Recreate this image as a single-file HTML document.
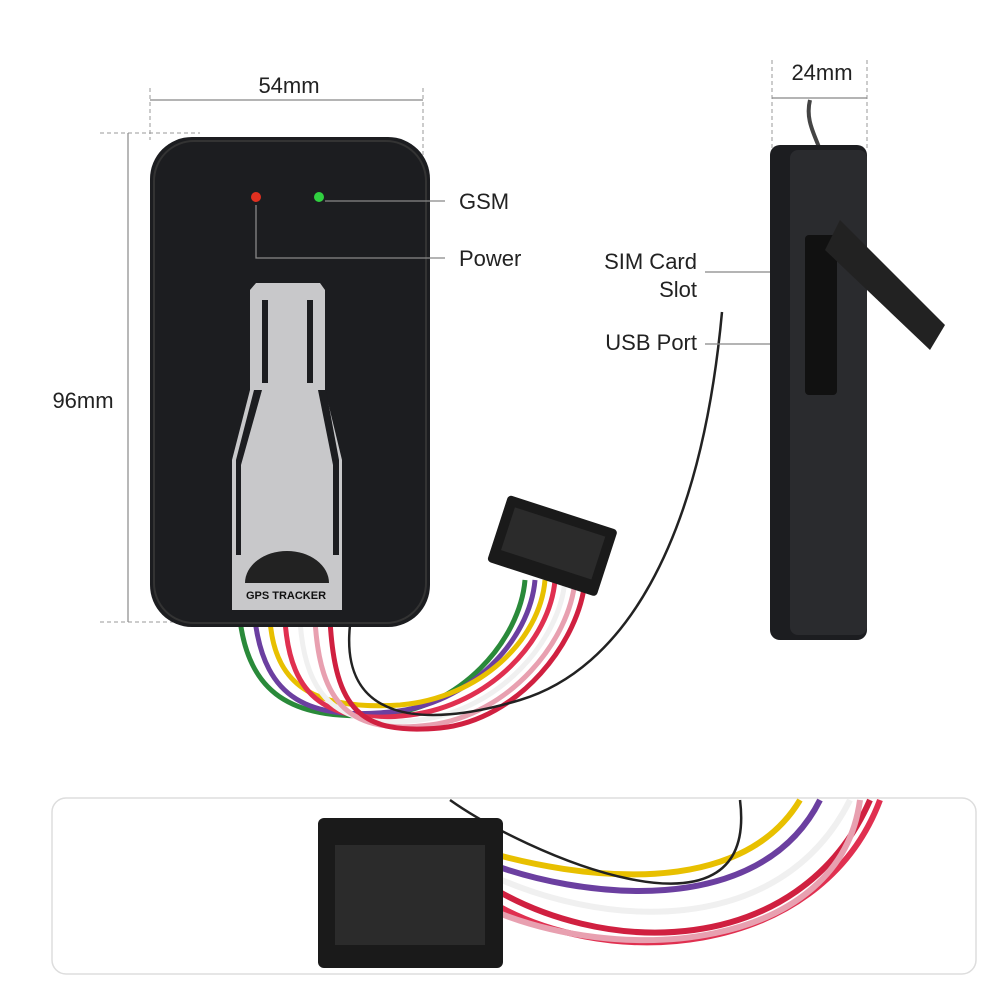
<!DOCTYPE html>
<html><head><style>body{margin:0;background:#fff}svg{display:block}</style></head><body>
<svg width="1000" height="1000" viewBox="0 0 1000 1000" xmlns="http://www.w3.org/2000/svg" font-family="Liberation Sans, sans-serif">
<rect width="1000" height="1000" fill="#fff"/>
<!-- dimension lines -->
<g stroke="#999" stroke-width="1" stroke-dasharray="4,3" fill="none">
<line x1="150" y1="88" x2="150" y2="140"/><line x1="423" y1="88" x2="423" y2="170"/>
<line x1="100" y1="133" x2="200" y2="133"/><line x1="100" y1="622" x2="200" y2="622"/>
<line x1="772" y1="60" x2="772" y2="150"/><line x1="867" y1="60" x2="867" y2="150"/>
</g>
<g stroke="#888" stroke-width="1.2">
<line x1="150" y1="100" x2="423" y2="100"/><line x1="128" y1="133" x2="128" y2="622"/>
<line x1="772" y1="98" x2="867" y2="98"/>
</g>
<text x="289" y="93" font-size="22" text-anchor="middle" fill="#222">54mm</text>
<text x="83" y="408" font-size="22" text-anchor="middle" fill="#222">96mm</text>
<text x="822" y="80" font-size="22" text-anchor="middle" fill="#222">24mm</text>
<!-- wires main -->
<g fill="none" stroke-width="5">
<path d="M240 620 C250 700 300 720 380 715 C460 710 520 640 525 580" stroke="#2a8a3a"/>
<path d="M255 620 C265 700 310 720 390 712 C470 705 530 640 535 580" stroke="#6b3fa0"/>
<path d="M270 620 C275 690 320 710 400 705 C480 698 540 640 545 580" stroke="#e8c000"/>
<path d="M285 620 C290 700 330 725 410 715 C490 705 550 640 555 580" stroke="#e03050"/>
<path d="M300 620 C305 700 340 730 420 720 C500 710 560 640 565 580" stroke="#f0f0f0"/>
<path d="M315 620 C320 705 350 735 430 725 C510 715 570 640 575 580" stroke="#e8a0b0"/>
<path d="M330 620 C335 710 360 735 440 728 C520 720 580 640 585 580" stroke="#d02040"/>
</g>
<path d="M350 625 C340 720 420 730 520 700 C620 670 700 550 722 312" fill="none" stroke="#222" stroke-width="2.5"/>
<!-- connector -->
<g transform="rotate(18 550 545)">
<rect x="495" y="510" width="115" height="70" rx="4" fill="#1a1a1a"/>
<rect x="505" y="520" width="95" height="45" fill="#2b2b2b"/>
</g>
<!-- main device -->
<rect x="150" y="137" width="280" height="490" rx="42" fill="#1c1d20"/>
<rect x="154" y="141" width="272" height="482" rx="40" fill="none" stroke="#333" stroke-width="2"/>
<path d="M256 283 L320 283 L325 290 L325 390 L342 460 L342 610 L232 610 L232 460 L250 390 L250 290 Z" fill="#c8c8ca"/>
<path d="M262 300 L268 300 L268 383 L262 383 Z M307 300 L313 300 L313 383 L307 383 Z" fill="#1c1d20"/>
<path d="M254 390 L262 390 L241 465 L241 555 L236 555 L236 460 Z M318 390 L326 390 L339 460 L339 555 L333 555 L333 465 Z" fill="#1c1d20"/>
<path d="M245 583 A42 32 0 0 1 329 583 Z" fill="#222"/>
<text x="286" y="599" font-size="11" font-weight="bold" text-anchor="middle" fill="#111">GPS TRACKER</text>
<circle cx="256" cy="197" r="5" fill="#e03020"/>
<circle cx="319" cy="197" r="5" fill="#30d040"/>
<g stroke="#888" stroke-width="1.3" fill="none">
<path d="M325 201 L445 201"/><path d="M256 205 L256 258 L445 258"/>
<path d="M705 272 L805 272"/><path d="M705 344 L805 344"/>
</g>
<text x="459" y="209" font-size="22" fill="#222">GSM</text>
<text x="459" y="266" font-size="22" fill="#222">Power</text>
<text x="697" y="269" font-size="22" text-anchor="end" fill="#222">SIM Card</text>
<text x="697" y="297" font-size="22" text-anchor="end" fill="#222">Slot</text>
<text x="697" y="350" font-size="22" text-anchor="end" fill="#222">USB Port</text>
<!-- side device -->
<path d="M810 100 C805 120 815 135 820 150" stroke="#444" stroke-width="4" fill="none"/>
<rect x="770" y="145" width="97" height="495" rx="10" fill="#1c1d20"/>
<rect x="790" y="150" width="77" height="485" rx="8" fill="#2a2b2e"/>
<rect x="805" y="235" width="32" height="160" rx="4" fill="#111"/>
<path d="M840 220 L945 325 L930 350 L825 250 Z" fill="#222"/>
<!-- bottom box -->
<rect x="52" y="798" width="924" height="176" rx="14" fill="#fff" stroke="#ddd" stroke-width="1.5"/>
<g fill="none" stroke-width="6">
<path d="M480 880 C600 960 800 960 870 800" stroke="#d02040"/>
<path d="M480 895 C600 975 820 960 880 800" stroke="#e03050"/>
<path d="M480 905 C620 970 840 950 860 800" stroke="#e8a0b0"/>
<path d="M480 870 C600 930 780 940 850 800" stroke="#f0f0f0"/>
<path d="M480 860 C580 900 760 920 820 800" stroke="#6b3fa0"/>
<path d="M480 850 C580 880 740 900 800 800" stroke="#e8c000"/>
</g>
<path d="M450 800 C520 850 760 960 740 800" stroke="#222" stroke-width="2.5" fill="none"/>
<rect x="318" y="818" width="185" height="150" rx="6" fill="#1a1a1a"/>
<rect x="335" y="845" width="150" height="100" fill="#2b2b2b"/>
</svg>
</body></html>
